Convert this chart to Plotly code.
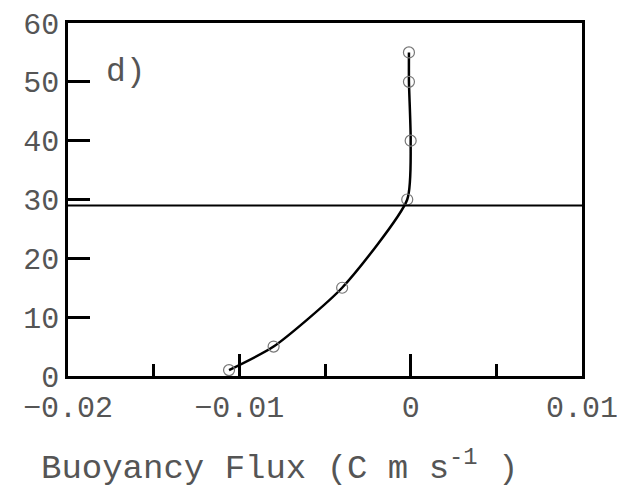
import plotly.graph_objects as go

flux = [-0.0106, -0.0080, -0.0040, -0.0002, 0.0000, -0.0001, -0.0001]
depth = [1, 5, 15, 30, 40, 50, 55]
hline_y = 29
x_ticks = [-0.02, -0.01, 0, 0.01]
x_ticklabels = ["\u22120.02", "\u22120.01", "0", "0.01"]
y_ticks = [0, 10, 20, 30, 40, 50, 60]

font_family = "Liberation Mono"
text_color = "#555555"

fig = go.Figure()
fig.add_trace(go.Scatter(
    x=flux, y=depth, mode="lines",
    line=dict(color="black", width=2.5, shape="spline", smoothing=0.6),
    showlegend=False, hoverinfo="skip"))
fig.add_trace(go.Scatter(
    x=flux, y=depth, mode="markers",
    marker=dict(symbol="circle-open", size=11, color="#777777", line=dict(width=1.2)),
    showlegend=False))

fig.add_hline(y=hline_y, line=dict(color="black", width=2))

fig.add_annotation(x=0.07, y=0.861, xref="paper", yref="paper", text="d)",
                   showarrow=False, xanchor="left", yanchor="middle",
                   font=dict(family=font_family, size=33, color=text_color))

fig.add_annotation(x=-0.056, y=-0.255, xref="paper", yref="paper",
                   text="Buoyancy Flux (C m s<sup>-1</sup> )",
                   showarrow=False, xanchor="left", yanchor="middle",
                   font=dict(family=font_family, size=34, color=text_color))

fig.update_xaxes(range=[-0.02, 0.01], tickvals=x_ticks, ticktext=x_ticklabels,
                 ticks="inside", ticklen=22, tickwidth=2.5, tickcolor="black",
                 minor=dict(dtick=0.005, ticks="inside", ticklen=12, tickwidth=2.5, tickcolor="black", showgrid=False),
                 showline=True, linecolor="black", linewidth=2.5, mirror=True,
                 showgrid=False, zeroline=False, automargin=False, ticklabelstandoff=2,
                 tickfont=dict(family=font_family, size=30, color=text_color))
fig.update_yaxes(range=[0, 60], tickvals=y_ticks,
                 ticks="inside", ticklen=22, tickwidth=2.5, tickcolor="black",
                 showline=True, linecolor="black", linewidth=2.5, mirror=True,
                 showgrid=False, zeroline=False, automargin=False,
                 tickfont=dict(family=font_family, size=30, color=text_color))

fig.update_layout(width=625, height=489, margin=dict(l=60, r=51, t=15, b=121),
                  plot_bgcolor="white", paper_bgcolor="white")

fig.write_html("out.html")
